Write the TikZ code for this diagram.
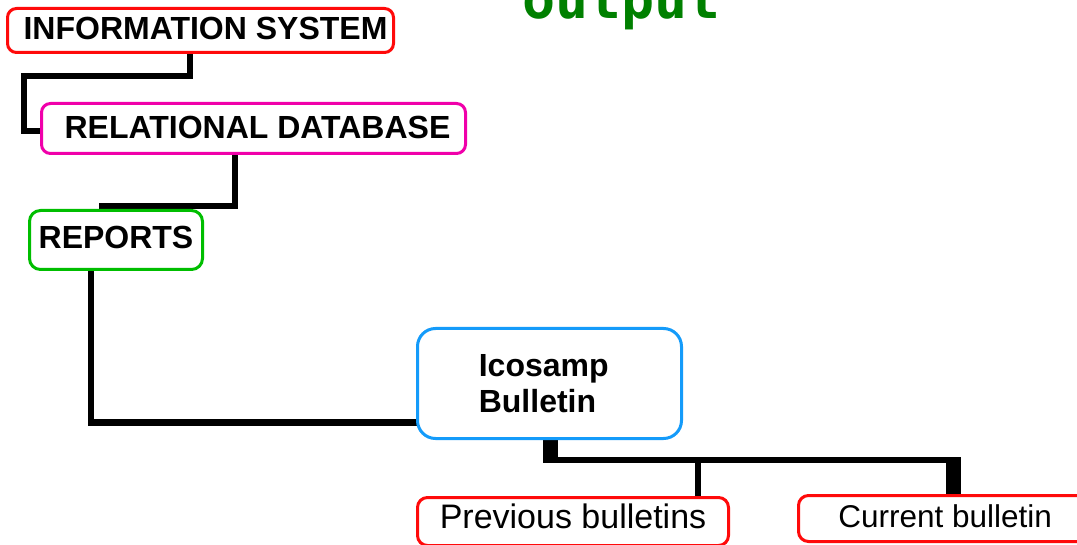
\documentclass[tikz,border=0pt]{standalone}
\usepackage{fontspec}
\setmainfont{Liberation Sans}
\newfontfamily\outfont{DejaVu Sans Mono}
\usetikzlibrary{backgrounds}
\definecolor{boxred}{RGB}{255,10,10}
\definecolor{boxmag}{RGB}{240,0,170}
\definecolor{boxgreen}{RGB}{0,190,0}
\definecolor{boxblue}{RGB}{20,155,250}
\definecolor{outgreen}{RGB}{0,128,0}
\tikzset{
  box/.style={draw, fill=white, line width=3pt, inner sep=0pt, outer sep=0pt, align=center},
  bigbold/.style={font=\fontsize{32}{36}\selectfont\bfseries},
  conn/.style={draw=black, line width=6pt, line cap=butt, line join=miter},
  thickconn/.style={draw=black, line width=15pt, line cap=butt}
}
\begin{document}
\begin{tikzpicture}[x=1pt,y=-1pt]
\useasboundingbox (0,0) rectangle (1077,545);
\clip (0,0) rectangle (1077,545);

\node[anchor=base west, text=outgreen, font=\outfont\bfseries\fontsize{55}{60}\selectfont, inner sep=0pt] (out) at (522,19) {output};

\node[box, draw=boxred, bigbold, rounded corners=9pt, minimum width=386pt, minimum height=44pt, text height=19pt, text depth=0pt] (IS) at (200.5,30.5) {\hspace*{10pt}INFORMATION SYSTEM};
\node[box, draw=boxmag, bigbold, rounded corners=9pt, minimum width=424pt, minimum height=50pt, text height=21pt, text depth=0pt] (RD) at (253.5,128.5) {\hspace*{8pt}RELATIONAL DATABASE};
\node[box, draw=boxgreen, bigbold, rounded corners=11pt, minimum width=173pt, minimum height=59pt, text height=18pt, text depth=0pt] (REP) at (116,240) {REPORTS};
\node[box, draw=boxblue, bigbold, align=left, rounded corners=18pt, minimum width=264pt, minimum height=110pt] (ICO) at (549.5,383.5) {Icosamp\\Bulletin\hspace*{24pt}};
\node[box, draw=boxred, font=\fontsize{34}{40}\selectfont, rounded corners=10pt, minimum width=311pt, minimum height=48pt, text height=13pt, text depth=0pt] (PREV) at (573,521.5) {Previous bulletins};
\node[box, draw=boxred, font=\fontsize{31.5}{38}\selectfont, rounded corners=10pt, minimum width=293.5pt, minimum height=46pt, text height=17pt, text depth=0pt] (CUR) at (945.25,518.5) {Current bulletin};

\coordinate (k1) at (190,76);
\coordinate (k2) at (24,131);
\coordinate (k3) at (235,206);
\coordinate (k4) at (102,206);
\coordinate (k5) at (90.5,422.5);
\coordinate (k6) at (550.5,463);
\coordinate (h1) at (543,459.75);
\coordinate (h2) at (961,459.75);
\coordinate (k8) at (698,459.75);
\coordinate (k7) at (953.5,457);

\begin{scope}[on background layer]
\draw[conn] (IS.south -| k1) -- (k1) -| (k2) -- (RD.west |- k2);
\draw[conn] (RD.south -| k3) -- (k3) -- (k4) -- (REP.north -| k4);
\draw[conn] (REP.south -| k5) -- (k5) -- (ICO.west |- k5);
\draw[thickconn] (ICO.south -| k6) -- (k6);
\draw[conn] (h1) -- (h2);
\draw[conn] (k8) -- (PREV.north -| k8);
\draw[thickconn] (k7) -- (CUR.north -| k7);
\end{scope}
\end{tikzpicture}
\end{document}
